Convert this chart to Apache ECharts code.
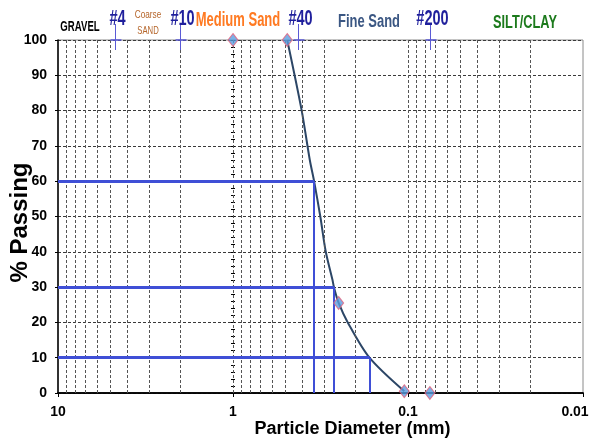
<!DOCTYPE html>
<html>
<head>
<meta charset="utf-8">
<script src="https://cdn.jsdelivr.net/npm/echarts@6/dist/echarts.min.js"></script>
<style>
  html, body { margin: 0; padding: 0; background: #fff; }
  #main { width: 592px; height: 446px; }
</style>
</head>
<body>
<div id="main"></div>
<script>
// sieve openings (mm)
var sieveNames = ['#4', '#10', '#40', '#200'];
var sieveSizes = [4.75, 2.0, 0.425, 0.075];

// measured points [diameter mm, % passing]
var testPoints = [[1, 100], [0.49, 100], [0.249, 25.5], [0.105, 0.5], [0.075, 0]];

// fitted gradation curve
var curvePoints = [
    [0.49, 100], [0.405, 80], [0.364, 66], [0.344, 60], [0.317, 50],
    [0.295, 40], [0.270, 32], [0.265, 30], [0.249, 25.5], [0.221, 20],
    [0.166, 10], [0.105, 0.5]
];

// D60, D30, D10
var dPercents = [60, 30, 10];
var dSizes = [0.344, 0.265, 0.166];

var FONT = '"Liberation Sans", Arial, sans-serif';

var chart = echarts.init(document.getElementById('main'));

// dashed vertical grid lines at 2..9 of every decade, plus 1 and 0.1
var vLines = [{xAxis: 1}, {xAxis: 0.1}];
[1, 0.1, 0.01].forEach(function (dec) {
    for (var m = 2; m <= 9; m++) {
        vLines.push({xAxis: +(m * dec).toFixed(4)});
    }
});

var dHoriz = [], dVert = [];
for (var i = 0; i < dPercents.length; i++) {
    dHoriz.push([{coord: [10, dPercents[i]]}, {coord: [dSizes[i], dPercents[i]]}]);
    dVert.push([{coord: [dSizes[i], dPercents[i]]}, {coord: [dSizes[i], 0]}]);
}

var option = {
    animation: false,
    grid: {
        left: 58, right: 9, top: 40, bottom: 53,
        outerBoundsMode: 'none',
        containLabel: false,
        show: true, borderColor: '#8a8a8a', borderWidth: 1
    },
    xAxis: [{
        type: 'log',
        logBase: 10,
        min: 0.01,
        max: 10,
        inverse: true,
        name: 'Particle Diameter (mm)',
        nameLocation: 'middle',
        nameGap: 27,
        nameMoveOverlap: false,
        nameTextStyle: {
            fontFamily: FONT, fontWeight: 'bold', fontSize: 18, color: '#000',
            padding: [0, 0, 0, 64]
        },
        axisLine: {lineStyle: {color: '#000', width: 1.5}},
        axisTick: {show: true, length: 4, lineStyle: {color: '#000'}},
        axisLabel: {
            fontFamily: FONT, fontWeight: 'bold', fontSize: 14, color: '#000', margin: 12,
            formatter: function (v) {
                var s = String(+v.toFixed(2));
                return v < 0.05 ? '{r|' + s + '}' : s;
            },
            rich: {r: {fontFamily: FONT, fontWeight: 'bold', fontSize: 14, color: '#000', padding: [0, 16, 0, 0]}}
        },
        splitLine: {show: false}
    }, {
        type: 'log',
        logBase: 10,
        min: 0.01,
        max: 10,
        inverse: true,
        position: 'top',
        axisLine: {lineStyle: {color: '#000', width: 1.5}},
        axisTick: {show: false},
        axisLabel: {show: false},
        splitLine: {show: false}
    }],
    yAxis: [{
        type: 'value',
        min: 0,
        max: 100,
        interval: 10,
        name: '% Passing',
        nameLocation: 'middle',
        nameGap: 26,
        nameMoveOverlap: false,
        nameTextStyle: {
            fontFamily: FONT, fontWeight: 'bold', fontSize: 24, color: '#000',
            padding: [0, 12, 0, 0]
        },
        axisLine: {show: true, lineStyle: {color: '#000', width: 1.5}},
        axisTick: {show: true, length: 3, lineStyle: {color: '#000'}},
        axisLabel: {fontFamily: FONT, fontWeight: 'bold', fontSize: 14, color: '#000', margin: 11},
        splitLine: {lineStyle: {color: '#3a3a3a', type: [3, 2], width: 1}}
    }, {
        // tick marks along the 1 mm line
        type: 'value',
        min: 0,
        max: 100,
        interval: 2,
        position: 'left',
        offset: -177,
        axisLine: {show: false},
        axisTick: {show: true, length: 4, lineStyle: {color: '#000', width: 1}},
        axisLabel: {show: false},
        splitLine: {show: false}
    }],
    series: [{
        type: 'line',
        data: [],
        silent: true,
        markLine: {
            silent: true,
            symbol: 'none',
            label: {show: false},
            lineStyle: {color: '#555', type: [3, 2], width: 1},
            data: vLines
        }
    }, {
        type: 'line',
        data: [],
        silent: true,
        z: 3,
        markLine: {
            silent: true,
            symbol: 'none',
            label: {show: false},
            lineStyle: {color: '#3f4fd6', type: 'solid', width: 3},
            data: dHoriz
        }
    }, {
        type: 'line',
        data: [],
        silent: true,
        z: 3,
        markLine: {
            silent: true,
            symbol: 'none',
            label: {show: false},
            lineStyle: {color: '#3f4fd6', type: 'solid', width: 2},
            data: dVert
        }
    }, {
        type: 'line',
        data: curvePoints,
        smooth: 0.3,
        showSymbol: false,
        z: 4,
        lineStyle: {color: '#2c4666', width: 2}
    }, {
        type: 'scatter',
        data: testPoints,
        symbol: 'diamond',
        symbolSize: [10, 13],
        z: 5,
        itemStyle: {color: '#5b9ee0', borderColor: '#e8607a', borderWidth: 1}
    }]
};

chart.setOption(option);

// annotations above the plot: sieve markers and soil zones (condensed with scaleX)
var graphics = [];
sieveSizes.forEach(function (s, i) {
    var top = chart.convertToPixel({xAxisIndex: 0, yAxisIndex: 0}, [s, 100]);
    var x = Math.round(top[0]) + 0.5;
    graphics.push({
        type: 'line', shape: {x1: x, y1: top[1] - 16, x2: x, y2: top[1] + 10},
        style: {stroke: '#5a5ad6', lineWidth: 1}, z: 10
    });
    graphics.push({
        type: 'line', shape: {x1: x - 5, y1: top[1], x2: x + 6, y2: top[1]},
        style: {stroke: '#5a5ad6', lineWidth: 1.5}, z: 10
    });
    graphics.push({
        type: 'text', x: x + 2, y: 19, z: 10, scaleX: 0.66,
        style: {text: sieveNames[i], font: 'bold 22px ' + FONT, fill: '#1f1f9c', align: 'center', verticalAlign: 'middle'}
    });
});

var zones = [
    {text: 'GRAVEL', x: 80, y: 27, size: 15, sx: 0.64, color: '#000'},
    {text: 'Coarse', x: 148, y: 15, size: 11, sx: 0.75, color: '#b5652a', weight: 'normal'},
    {text: 'SAND', x: 148, y: 31, size: 11, sx: 0.7, color: '#b5652a', weight: 'normal'},
    {text: 'Medium Sand', x: 238, y: 20, size: 20, sx: 0.65, color: '#ff7a22'},
    {text: 'Fine Sand', x: 369, y: 22, size: 18, sx: 0.72, color: '#3b5783'},
    {text: 'SILT/CLAY', x: 525, y: 23, size: 18, sx: 0.71, color: '#1c7a1c'}
];
zones.forEach(function (z) {
    graphics.push({
        type: 'text', x: z.x, y: z.y, z: 10, scaleX: z.sx,
        style: {
            text: z.text,
            font: (z.weight || 'bold') + ' ' + z.size + 'px ' + FONT,
            fill: z.color, align: 'center', verticalAlign: 'middle'
        }
    });
});

chart.setOption({graphic: graphics});
</script>
</body>
</html>
